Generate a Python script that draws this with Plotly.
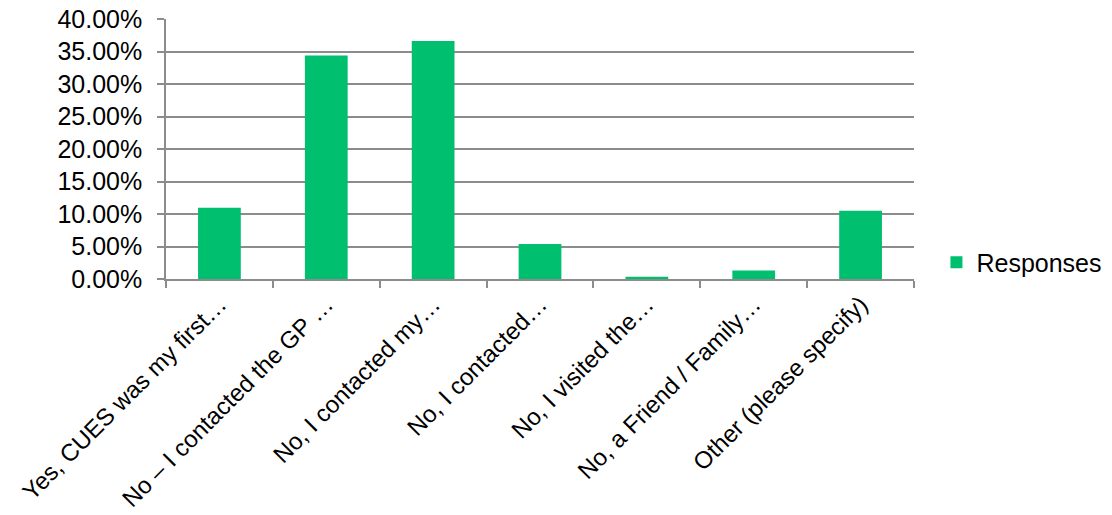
import plotly.graph_objects as go

categories = [
    "Yes, CUES was my first…",
    "No – I contacted the GP …",
    "No, I contacted my…",
    "No, I contacted…",
    "No, I visited the…",
    "No, a Friend / Family…",
    "Other (please specify)",
]
responses = [0.1095, 0.344, 0.366, 0.054, 0.0036, 0.013, 0.105]
y_ticks = [0, 0.05, 0.10, 0.15, 0.20, 0.25, 0.30, 0.35, 0.40]

GREEN = "#00BF6F"
GRID = "#8c8c8c"
FONT = "Liberation Sans, Arial, sans-serif"

fig = go.Figure(
    go.Bar(
        x=categories,
        y=responses,
        name="Responses",
        marker=dict(color=GREEN, line=dict(width=0)),
        width=0.4,
        showlegend=True,
    )
)

fig.update_layout(
    width=1112,
    height=515,
    margin=dict(l=166, r=198, t=19, b=235.5, autoexpand=False),
    plot_bgcolor="white",
    paper_bgcolor="white",
    font=dict(family=FONT, size=24, color="#000000"),
    showlegend=True,
    legend=dict(
        x=1.03, y=0.063, xanchor="left", yanchor="middle",
        font=dict(family=FONT, size=25, color="#000000"),
        bgcolor="rgba(0,0,0,0)",
    ),
    bargap=0.6,
)

fig.update_yaxes(
    range=[0, 0.4],
    tickvals=y_ticks,
    tickformat=".2%",
    showgrid=True,
    gridcolor=GRID,
    gridwidth=1.5,
    showline=True,
    linecolor=GRID,
    linewidth=1.5,
    ticks="outside",
    ticklen=7,
    tickcolor=GRID,
    tickwidth=1.5,
    zeroline=False,
    ticklabelstandoff=10,
    automargin=False,
    tickfont=dict(family=FONT, size=25, color="#000000"),
)

fig.update_xaxes(
    type="category",
    tickangle=-45,
    showline=True,
    linecolor=GRID,
    linewidth=1.5,
    ticks="outside",
    tickson="boundaries",
    ticklen=7,
    tickcolor=GRID,
    tickwidth=1.5,
    showgrid=False,
    automargin=False,
    tickfont=dict(family=FONT, size=24, color="#000000"),
)

fig.write_html("out.html")
